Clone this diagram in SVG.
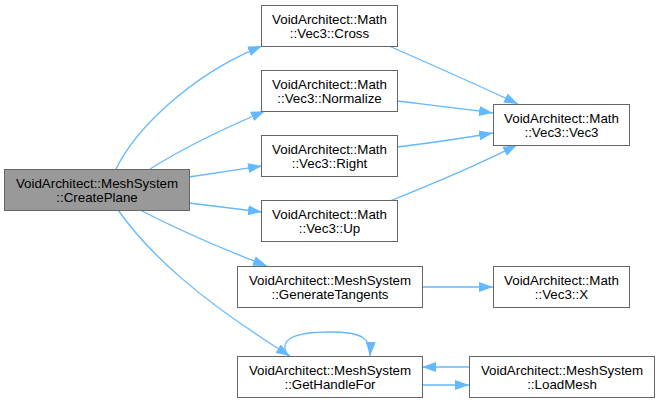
<svg xmlns="http://www.w3.org/2000/svg" width="660" height="402" viewBox="0 0 660 402">
<style>
.box{fill:#ffffff;stroke:#666666;stroke-width:1}
.sel{fill:#999999;stroke:#666666;stroke-width:1}
.t{font-family:"Liberation Sans",Arial,Helvetica,sans-serif;font-size:13.33px;fill:#000000;text-anchor:middle}
.e{fill:none;stroke:#63b8ff;stroke-width:1.3}
</style>
<defs>
<marker id="ah" markerWidth="14" markerHeight="10" refX="14" refY="5" orient="auto" markerUnits="userSpaceOnUse">
<path d="M0,0 L14,5 L0,10 z" fill="#63b8ff"/>
</marker>
</defs>
<rect width="660" height="402" fill="#ffffff"/>
<g id="connectors">
<path class="e" marker-end="url(#ah)" d="M116,169 C135,130 190,75 262,46"/>
<path class="e" marker-end="url(#ah)" d="M150,169 C180,150 225,128 265,111"/>
<path class="e" marker-end="url(#ah)" d="M189,177 L262,166"/>
<path class="e" marker-end="url(#ah)" d="M189,203 L262,212"/>
<path class="e" marker-end="url(#ah)" d="M140,210 C175,228 225,250 267,266"/>
<path class="e" marker-end="url(#ah)" d="M118,210 C150,255 200,300 290,356"/>
<path class="e" marker-end="url(#ah)" d="M288,356 C278,340 292,332 330,332 C362,332 371,338 370,356"/>
<path class="e" marker-end="url(#ah)" d="M389,46 C430,64 480,86 518,104"/>
<path class="e" marker-end="url(#ah)" d="M397,101 C430,105 465,109 493,113"/>
<path class="e" marker-end="url(#ah)" d="M397,147 C430,143 465,138 493,133"/>
<path class="e" marker-end="url(#ah)" d="M390,201 C430,185 480,164 517,145"/>
<path class="e" marker-end="url(#ah)" d="M422,287 L493,287"/>
<path class="e" marker-end="url(#ah)" d="M469,367 L422,367"/>
<path class="e" marker-end="url(#ah)" d="M422,385 L469,385"/>
</g>
<g id="node-createplane">
<rect class="sel" x="4.5" y="169.5" width="185" height="41"/>
<text class="t" x="97" y="188">VoidArchitect::MeshSystem</text>
<text class="t" x="97" y="201.5">::CreatePlane</text>
</g>
<g id="node-cross">
<rect class="box" x="261.5" y="5.5" width="136" height="41"/>
<text class="t" x="329.5" y="24">VoidArchitect::Math</text>
<text class="t" x="329.5" y="37.5">::Vec3::Cross</text>
</g>
<g id="node-normalize">
<rect class="box" x="261.5" y="70.5" width="136" height="41"/>
<text class="t" x="329.5" y="89">VoidArchitect::Math</text>
<text class="t" x="329.5" y="102.5">::Vec3::Normalize</text>
</g>
<g id="node-right">
<rect class="box" x="261.5" y="135.5" width="136" height="41"/>
<text class="t" x="329.5" y="154">VoidArchitect::Math</text>
<text class="t" x="329.5" y="167.5">::Vec3::Right</text>
</g>
<g id="node-up">
<rect class="box" x="261.5" y="200.5" width="136" height="41"/>
<text class="t" x="329.5" y="219">VoidArchitect::Math</text>
<text class="t" x="329.5" y="232.5">::Vec3::Up</text>
</g>
<g id="node-generatetangents">
<rect class="box" x="237.5" y="266.5" width="185" height="41"/>
<text class="t" x="330" y="285">VoidArchitect::MeshSystem</text>
<text class="t" x="330" y="298.5">::GenerateTangents</text>
</g>
<g id="node-gethandlefor">
<rect class="box" x="237.5" y="356.5" width="185" height="41"/>
<text class="t" x="330" y="375">VoidArchitect::MeshSystem</text>
<text class="t" x="330" y="388.5">::GetHandleFor</text>
</g>
<g id="node-vec3">
<rect class="box" x="493.5" y="104.5" width="136" height="41"/>
<text class="t" x="561.5" y="123">VoidArchitect::Math</text>
<text class="t" x="561.5" y="136.5">::Vec3::Vec3</text>
</g>
<g id="node-x">
<rect class="box" x="493.5" y="266.5" width="136" height="41"/>
<text class="t" x="561.5" y="285">VoidArchitect::Math</text>
<text class="t" x="561.5" y="298.5">::Vec3::X</text>
</g>
<g id="node-loadmesh">
<rect class="box" x="469.5" y="356.5" width="185" height="41"/>
<text class="t" x="562" y="375">VoidArchitect::MeshSystem</text>
<text class="t" x="562" y="388.5">::LoadMesh</text>
</g>
</svg>
